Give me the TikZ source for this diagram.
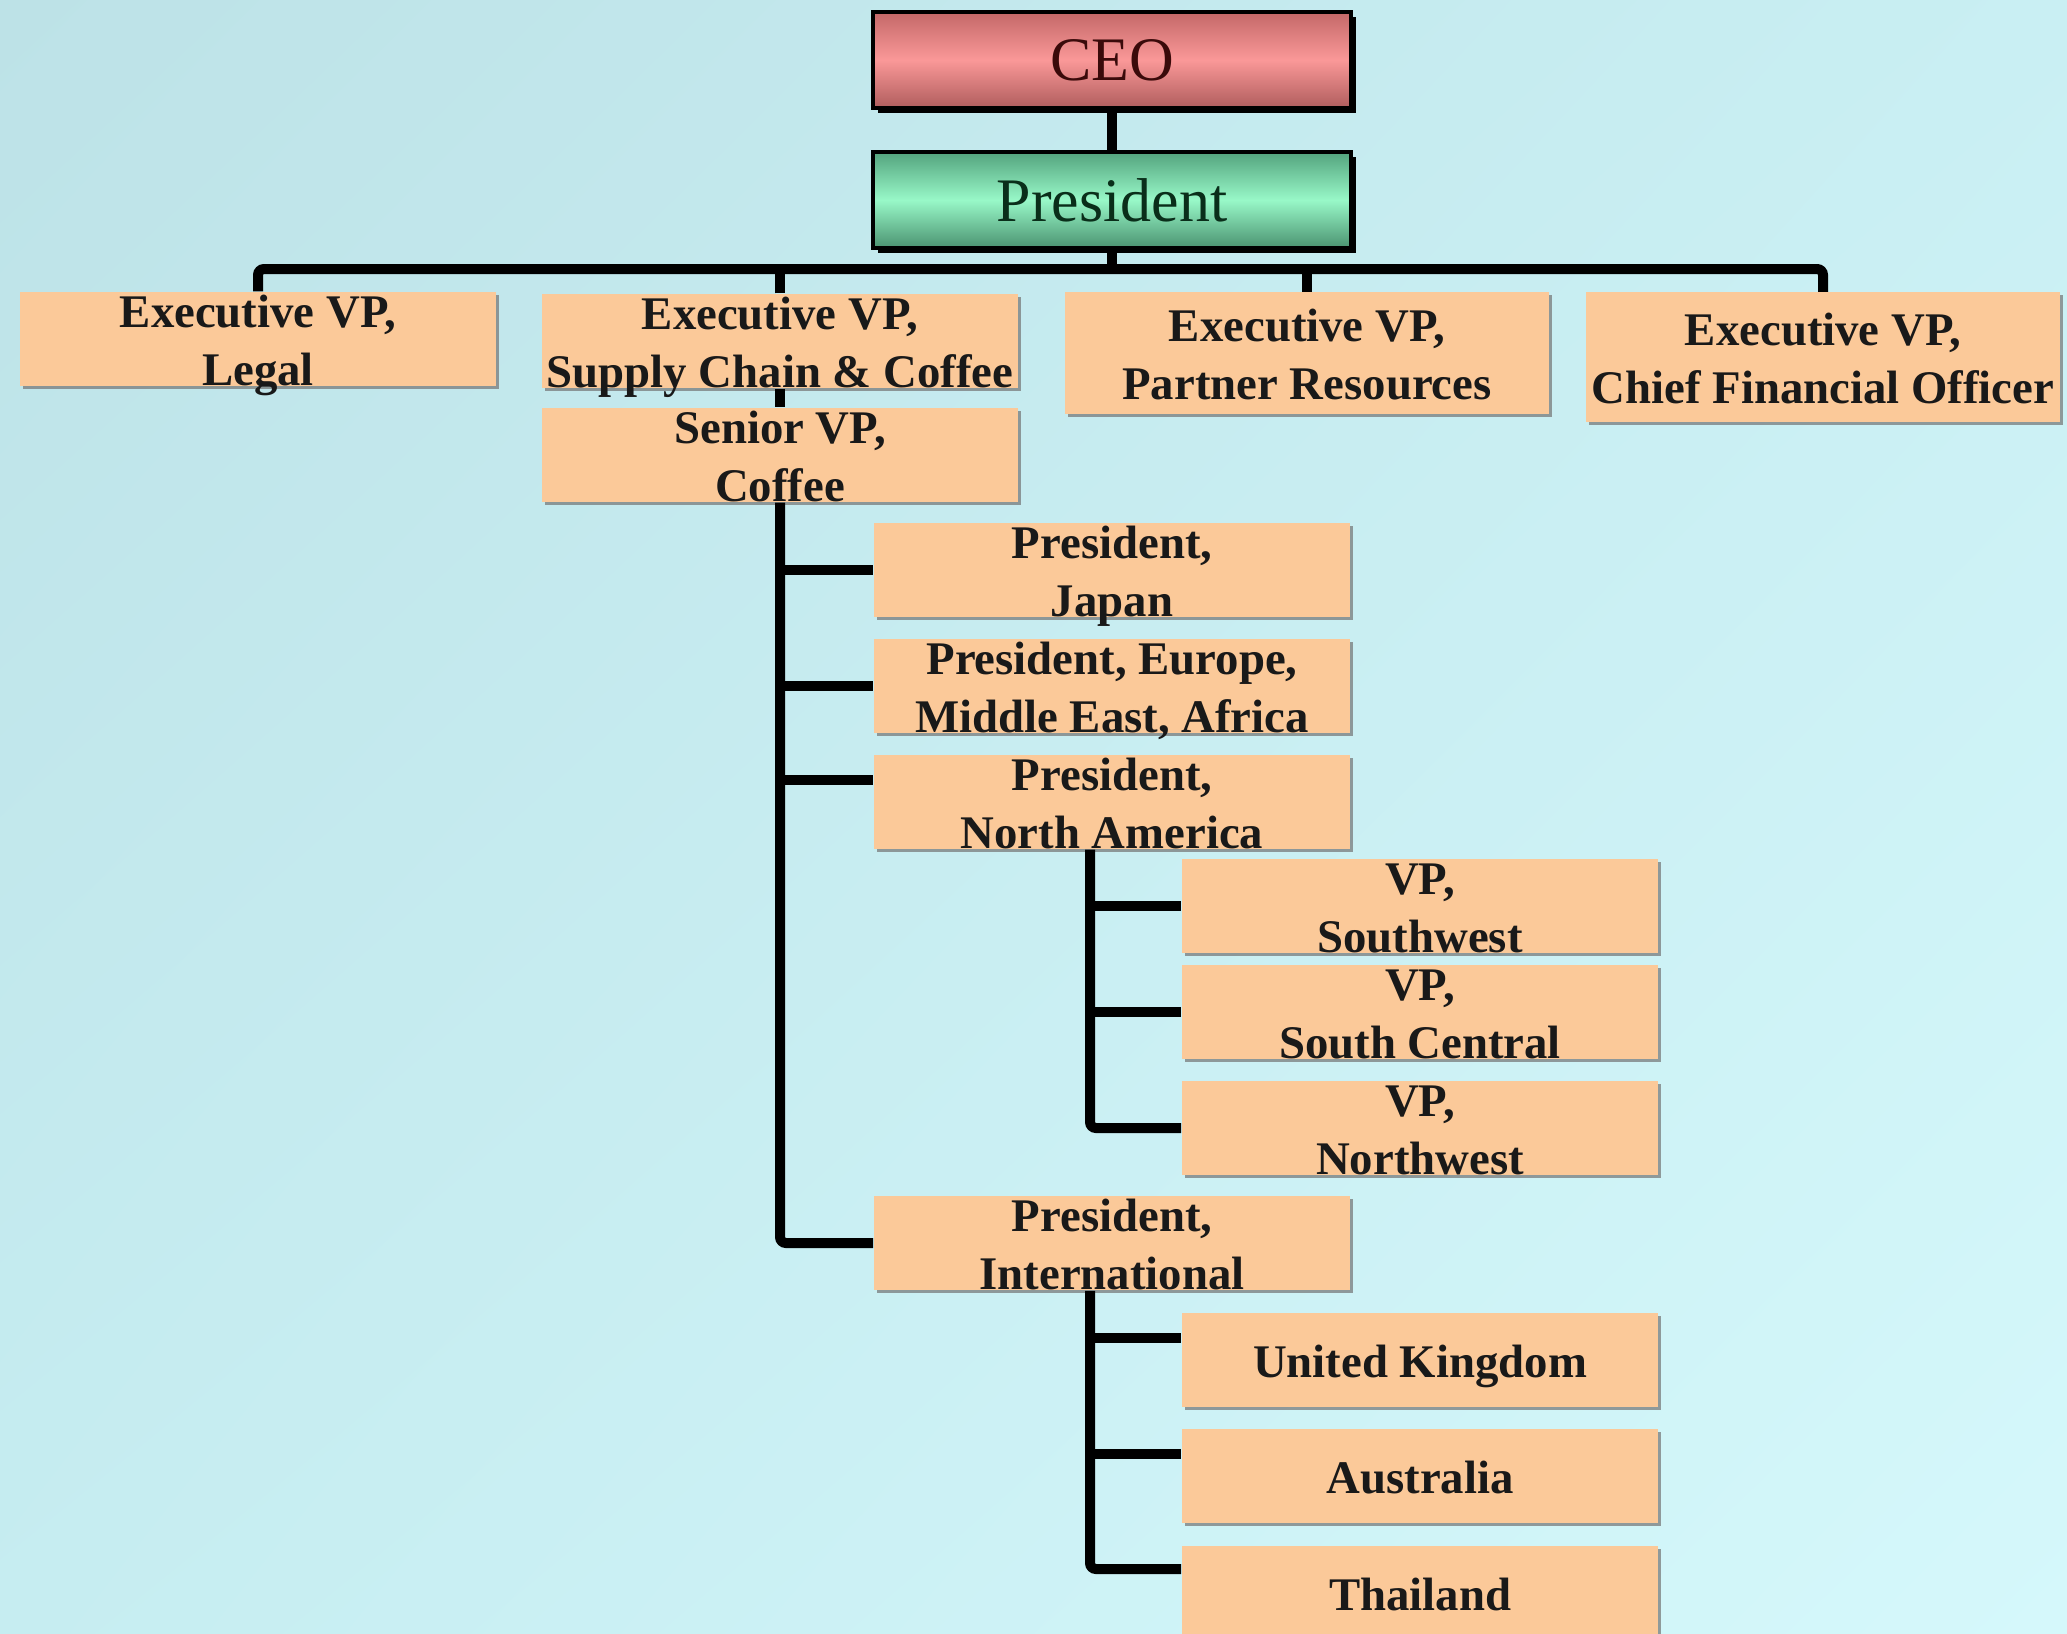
\documentclass[tikz,border=0pt]{standalone}
\usepackage{fontspec}
\setmainfont{Liberation Serif}
\usetikzlibrary{calc,shadows,shadings}
\definecolor{peach}{RGB}{251,201,153}
\definecolor{bgul}{RGB}{189,226,231}
\definecolor{bgur}{RGB}{201,239,243}
\definecolor{bgll}{RGB}{198,237,241}
\definecolor{bglr}{RGB}{213,248,251}
\definecolor{ceored}{RGB}{250,152,152}
\definecolor{ceodark}{RGB}{196,104,104}
\definecolor{ceotext}{RGB}{58,10,10}
\definecolor{presgreen}{RGB}{152,248,200}
\definecolor{presdark}{RGB}{84,164,126}
\definecolor{prestext}{RGB}{10,46,26}
\newcommand{\orgtext}[1]{\smash{\raisebox{-0.4em}{\begin{tabular}{@{}c@{}}#1\end{tabular}}}}
\tikzset{
	orgbox/.style={fill=peach, minimum width=4.76cm, minimum height=0.94cm, inner sep=0pt,
		font=\fontsize{13.3}{16.5}\selectfont\bfseries, text=black!90,
		drop shadow={shadow xshift=0.03cm, shadow yshift=-0.03cm, fill=black!55, opacity=0.7}},
	topbox/.style={draw=black, line width=0.4mm, minimum width=4.77cm, minimum height=0.95cm, inner sep=0pt,
		font=\fontsize{17.6}{20}\selectfont,
		drop shadow={shadow xshift=0.05cm, shadow yshift=-0.05cm, fill=black, opacity=1}},
	orglink/.style={line width=1mm, rounded corners=0.06cm}
}

\begin{document}
\begin{tikzpicture}[x=0.01cm, y=-0.01cm]
		%%%%% START %%%%%
		
		\clip (0, 0) rectangle (2067, 1633);
		\shade[upper left=bgul, upper right=bgur, lower left=bgll, lower right=bglr] (0, 0) rectangle (2067, 1633);
		
		\node[topbox, top color=ceodark, bottom color=ceodark!90!black, middle color=ceored, text=ceotext] (ceo) at (1112, 60) {CEO};
		\node[topbox, top color=presdark, bottom color=presdark!90!black, middle color=presgreen, text=prestext] (pres) at (1112, 200) {President};
		
		\node[orgbox] (legal) at (258, 339) {\orgtext{Executive VP,\\Legal}};
		\node[orgbox] (supply) at (780, 341) {\orgtext{Executive VP,\\Supply Chain \& Coffee}};
		\node[orgbox, minimum width=4.84cm, minimum height=1.21cm] (partner) at (1307, 353) {\orgtext{Executive VP,\\Partner Resources}};
		\node[orgbox, minimum width=4.73cm, minimum height=1.29cm] (cfo) at (1823, 357) {\orgtext{Executive VP,\\Chief Financial Officer}};
		
		\node[orgbox] (seniorvp) at (780, 455) {\orgtext{Senior VP,\\Coffee}};
		
		\node[orgbox] (japan) at (1112, 570) {\orgtext{President,\\Japan}};
		\node[orgbox] (emea) at (1112, 686) {\orgtext{President, Europe,\\Middle East, Africa}};
		\node[orgbox] (namerica) at (1112, 802) {\orgtext{President,\\North America}};
		\node[orgbox] (intl) at (1112, 1243) {\orgtext{President,\\International}};
		
		\node[orgbox] (southwest) at (1420, 906) {\orgtext{VP,\\Southwest}};
		\node[orgbox] (southcentral) at (1420, 1012) {\orgtext{VP,\\South Central}};
		\node[orgbox] (northwest) at (1420, 1128) {\orgtext{VP,\\Northwest}};
		
		\node[orgbox] (uk) at (1420, 1360) {\orgtext{United Kingdom}};
		\node[orgbox] (australia) at (1420, 1476) {\orgtext{Australia}};
		\node[orgbox] (thailand) at (1420, 1593) {\orgtext{Thailand}};
		
		% top of the chart
		\coordinate (bar) at (1112, 269);
		\draw[orglink] (ceo) -- (pres);
		\draw[orglink] (pres) -- (bar);
		\draw[orglink] (legal.north) |- (bar) -| (cfo.north);
		\draw[orglink] (supply.north) -- (supply.north |- bar);
		\draw[orglink] (partner.north) -- (partner.north |- bar);
		\draw[orglink] (supply) -- (seniorvp);
		
		% regions under senior VP
		\draw[orglink] (seniorvp.south) |- (intl.west);
		\draw[orglink] (seniorvp.south |- japan.west) -- (japan.west);
		\draw[orglink] (seniorvp.south |- emea.west) -- (emea.west);
		\coordinate (nain) at ([yshift=0.22cm]namerica.west);
		\draw[orglink] (seniorvp.south |- nain) -- (nain);
		
		% north america
		\coordinate (natrunk) at ([xshift=-0.22cm]namerica.south);
		\draw[orglink] (natrunk) |- (northwest.west);
		\draw[orglink] (natrunk |- southwest.west) -- (southwest.west);
		\draw[orglink] (natrunk |- southcentral.west) -- (southcentral.west);
		
		% international
		\coordinate (intltrunk) at ([xshift=-0.22cm]intl.south);
		\coordinate (ukin) at ([yshift=0.22cm]uk.west);
		\coordinate (ausin) at ([yshift=0.22cm]australia.west);
		\coordinate (thain) at ([yshift=0.24cm]thailand.west);
		\draw[orglink] (intltrunk) |- (thain);
		\draw[orglink] (intltrunk |- ukin) -- (ukin);
		\draw[orglink] (intltrunk |- ausin) -- (ausin);
		
		%%%%% END %%%%%
\end{tikzpicture}
\end{document}
